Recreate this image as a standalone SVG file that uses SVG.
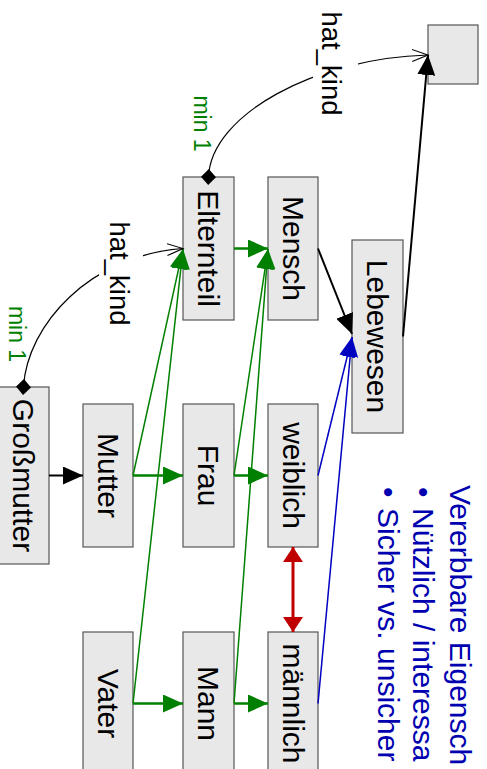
<svg xmlns="http://www.w3.org/2000/svg" width="487" height="769" viewBox="0 0 487 769">
  <style>
    .node rect { fill: #e8e8e8; stroke: #555; stroke-width: 1.2; }
    .node text { font-family: "Liberation Sans", Arial, sans-serif; font-size: 30px; fill: #000; text-anchor: middle; }
    .isa { fill: none; stroke: #008000; stroke-width: 2.7; }
    .isa-thin { fill: none; stroke: #008000; stroke-width: 1.5; }
    .blk { fill: none; stroke: #000; stroke-width: 2; }
    .blu { fill: none; stroke: #0000c0; stroke-width: 1.5; }
    .rel { fill: none; stroke: #000; stroke-width: 1.2; }
    .lbl { font-family: "Liberation Sans", Arial, sans-serif; font-size: 27.5px; fill: #000; text-anchor: middle; }
    .card { font-family: "Liberation Sans", Arial, sans-serif; font-size: 23px; fill: #008000; text-anchor: middle; }
    .notes text { font-family: "Liberation Sans", Arial, sans-serif; fill: #0000b0; }
  </style>
  <defs>
    <marker id="ah-black" markerUnits="userSpaceOnUse" markerWidth="20" markerHeight="18" refX="20" refY="9" orient="auto">
      <path d="M0,0 L20,9 L0,18 z" fill="#000"/>
    </marker>
    <marker id="ah-green" markerUnits="userSpaceOnUse" markerWidth="20" markerHeight="18" refX="20" refY="9" orient="auto">
      <path d="M0,0 L20,9 L0,18 z" fill="#008000"/>
    </marker>
    <marker id="ah-blue" markerUnits="userSpaceOnUse" markerWidth="20" markerHeight="16" refX="20" refY="8" orient="auto">
      <path d="M0,0 L20,8 L0,16 z" fill="#0000c0"/>
    </marker>
    <marker id="ah-red" markerUnits="userSpaceOnUse" markerWidth="16" markerHeight="20" refX="15" refY="10" orient="auto-start-reverse">
      <path d="M0,0 L15,10 L0,20 z" fill="#c00000"/>
    </marker>
    <marker id="ah-open" markerUnits="userSpaceOnUse" markerWidth="18" markerHeight="14" refX="16" refY="7" orient="auto">
      <path d="M0,1 L16,7 L0,13" fill="none" stroke="#000" stroke-width="1.1"/>
    </marker>
    <marker id="diamond" markerUnits="userSpaceOnUse" markerWidth="16" markerHeight="16" refX="8" refY="8" orient="auto">
      <path d="M0,8 L8,0.5 L16,8 L8,15.5 z" fill="#000"/>
    </marker>
  </defs>

  <!-- nodes -->
  <g id="grossmutter" class="node">
    <rect x="-2" y="387" width="51" height="177"/>
    <text transform="translate(23.5,475.5) rotate(90)" y="10.5">Großmutter</text>
  </g>
  <g id="mutter" class="node">
    <rect x="83" y="404" width="50" height="143"/>
    <text transform="translate(108,475.5) rotate(90)" y="10.5">Mutter</text>
  </g>
  <g id="vater" class="node">
    <rect x="83" y="632" width="50" height="143"/>
    <text transform="translate(108,703.5) rotate(90)" y="10.5">Vater</text>
  </g>
  <g id="elternteil" class="node">
    <rect x="183" y="177" width="51" height="143"/>
    <text transform="translate(208.5,248.5) rotate(90)" y="10.5">Elternteil</text>
  </g>
  <g id="frau" class="node">
    <rect x="183" y="404" width="51" height="143"/>
    <text transform="translate(208.5,475.5) rotate(90)" y="10.5">Frau</text>
  </g>
  <g id="mann" class="node">
    <rect x="183" y="632" width="51" height="143"/>
    <text transform="translate(208.5,703.5) rotate(90)" y="10.5">Mann</text>
  </g>
  <g id="mensch" class="node">
    <rect x="268" y="177" width="50" height="143"/>
    <text transform="translate(293,248.5) rotate(90)" y="10.5">Mensch</text>
  </g>
  <g id="weiblich" class="node">
    <rect x="268" y="404" width="50" height="143"/>
    <text transform="translate(293,475.5) rotate(90)" y="10.5">weiblich</text>
  </g>
  <g id="maennlich" class="node">
    <rect x="268" y="632" width="50" height="143"/>
    <text transform="translate(293,703.5) rotate(90)" y="10.5">männlich</text>
  </g>
  <g id="lebewesen" class="node">
    <rect x="352" y="240" width="51" height="193"/>
    <text transform="translate(377.5,336.5) rotate(90)" y="10.5">Lebewesen</text>
  </g>
  <g id="wurzel" class="node">
    <rect x="428" y="25" width="50" height="59"/>
  </g>

  <!-- connectors -->
  <g id="connectors">
    <!-- is-a (green) -->
    <path class="isa" d="M133,475.5 H183" marker-end="url(#ah-green)"/>
    <path class="isa" d="M133,703.5 H183" marker-end="url(#ah-green)"/>
    <path class="isa" d="M234,475.5 H268" marker-end="url(#ah-green)"/>
    <path class="isa" d="M234,703.5 H268" marker-end="url(#ah-green)"/>
    <path class="isa" d="M234,248.5 H268" marker-end="url(#ah-green)"/>
    <path class="isa-thin" d="M133,475.5 L183,249" marker-end="url(#ah-green)"/>
    <path class="isa-thin" d="M133,703.5 L183,249" marker-end="url(#ah-green)"/>
    <path class="isa-thin" d="M234,475.5 L268,249" marker-end="url(#ah-green)"/>
    <path class="isa-thin" d="M234,703.5 L268,249" marker-end="url(#ah-green)"/>

    <!-- black -->
    <path class="blk" d="M49,475.5 H83" stroke-width="3" marker-end="url(#ah-black)"/>
    <path class="blk" d="M318,248.5 L352,334" marker-end="url(#ah-black)"/>
    <path class="blk" d="M403,336.5 L428,55" marker-end="url(#ah-black)"/>

    <!-- blue -->
    <path class="blu" d="M318,475.5 L352,337" marker-end="url(#ah-blue)"/>
    <path class="blu" d="M318,703.5 L352,337" marker-end="url(#ah-blue)"/>

    <!-- disjoint (red) -->
    <path d="M293,547 V632" fill="none" stroke="#c00000" stroke-width="3" marker-start="url(#ah-red)" marker-end="url(#ah-red)"/>

    <!-- hat_kind relations -->
    <path class="rel" d="M23.5,387 C27,325 90,255 183,248.5" marker-start="url(#diamond)" marker-end="url(#ah-open)"/>
    <rect x="99" y="221" width="44" height="106" fill="#fff"/>
    <text class="lbl" transform="translate(110,273.5) rotate(90)">hat_kind</text>
    <text class="card" transform="translate(9,334) rotate(90)">min 1</text>

    <path class="rel" d="M208.5,177 C211,115 315,58 428,55" marker-start="url(#diamond)" marker-end="url(#ah-open)"/>
    <rect x="313" y="10" width="45" height="107" fill="#fff"/>
    <text class="lbl" transform="translate(322,63.5) rotate(90)">hat_kind</text>
    <text class="card" transform="translate(194,123.5) rotate(90)">min 1</text>
  </g>

  <!-- notes -->
  <g id="notes" class="notes">
    <text transform="translate(450,485) rotate(90)" font-size="30">Vererbbare Eigensch</text>
    <text transform="translate(413,487) rotate(90)" font-size="30"><tspan>•</tspan><tspan x="21">Nützlich / interessa</tspan></text>
    <text transform="translate(378,487) rotate(90)" font-size="30"><tspan>•</tspan><tspan x="21">Sicher vs. unsicher</tspan></text>
  </g>
</svg>
